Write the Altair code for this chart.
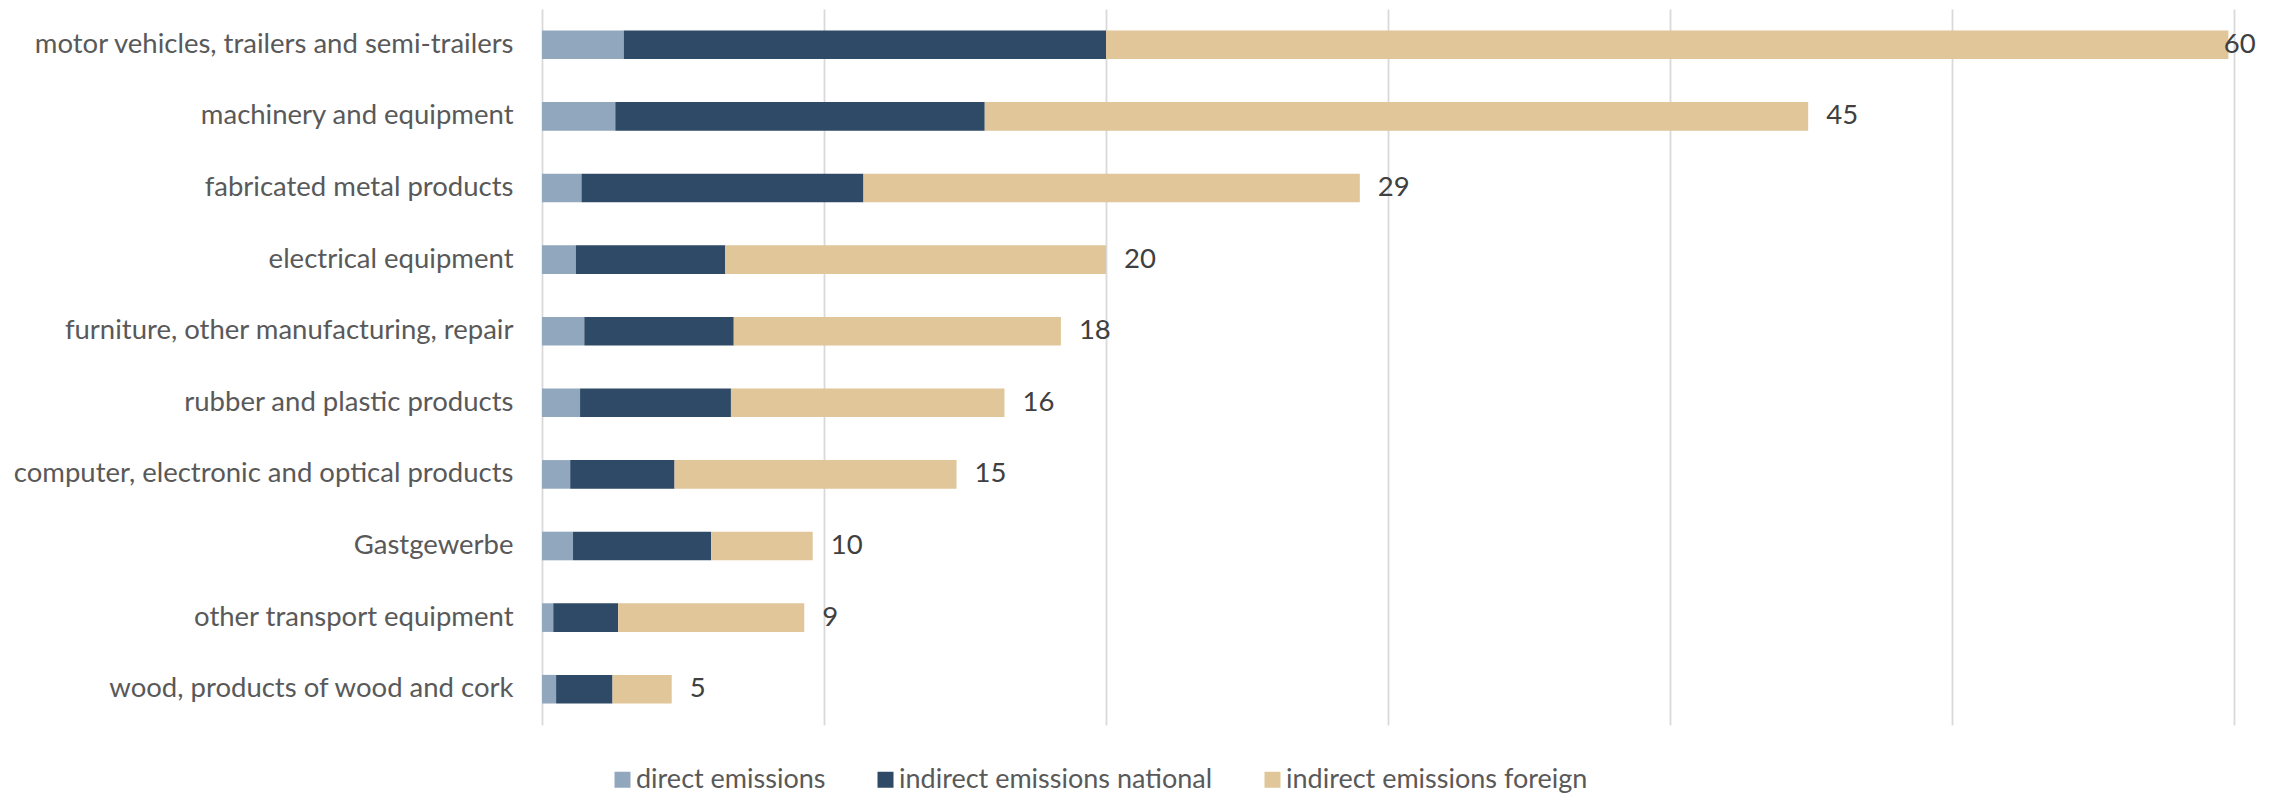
import altair as alt
import pandas as pd

categories = [
    "motor vehicles, trailers and semi-trailers",
    "machinery and equipment",
    "fabricated metal products",
    "electrical equipment",
    "furniture, other manufacturing, repair",
    "rubber and plastic products",
    "computer, electronic and optical products",
    "Gastgewerbe",
    "other transport equipment",
    "wood, products of wood and cork",
]
direct = [2.9, 2.6, 1.4, 1.2, 1.5, 1.35, 1.0, 1.1, 0.4, 0.5]
national = [17.1, 13.1, 10.0, 5.3, 5.3, 5.35, 3.7, 4.9, 2.3, 2.0]
foreign = [39.8, 29.2, 17.6, 13.5, 11.6, 9.7, 10.0, 3.6, 6.6, 2.1]

series_names = ["direct emissions", "indirect emissions national", "indirect emissions foreign"]
series_colors = ["#91A7BD", "#2E4A66", "#E0C699"]
x_ticks = [0, 10, 20, 30, 40, 50, 60]

rows = []
for i, c in enumerate(categories):
    for k, (name, vals) in enumerate(zip(series_names, [direct, national, foreign])):
        rows.append({"category": c, "series": name, "value": vals[i], "order": k})
df = pd.DataFrame(rows)

totals = pd.DataFrame({
    "category": categories,
    "total": [d + n + f for d, n, f in zip(direct, national, foreign)],
})

FONT = "Lato"
FS = 27.5

y_enc = alt.Y(
    "category:N",
    sort=categories,
    scale=alt.Scale(paddingInner=0.6, paddingOuter=0.3),
    axis=alt.Axis(
        title=None, domain=False, ticks=False, labelFontSize=FS, labelFont=FONT,
        labelColor="#595959", labelPadding=29, labelLimit=800,
    ),
)

bars = alt.Chart(df).mark_bar().encode(
    y=y_enc,
    x=alt.X(
        "value:Q",
        stack="zero",
        scale=alt.Scale(domain=[0, 60], nice=False),
        axis=alt.Axis(
            title=None, values=x_ticks, labels=False, ticks=False, domain=False,
            grid=True, gridColor="#d9d9d9", gridWidth=1.8,
        ),
    ),
    color=alt.Color(
        "series:N",
        scale=alt.Scale(domain=series_names, range=series_colors),
        legend=alt.Legend(
            title=None, orient="none", direction="horizontal", legendX=67, legendY=757,
            symbolType="square", symbolSize=256, symbolStrokeWidth=0,
            labelFontSize=27, labelFont=FONT, labelColor="#595959", labelLimit=800,
            columnPadding=46, labelOffset=0,
        ),
    ),
    order=alt.Order("order:Q"),
)

labels = alt.Chart(totals).transform_calculate(
    pos="min(datum.total, 59)"
).mark_text(
    align="left", baseline="middle", dx=18, fontSize=FS, font=FONT, color="#404040"
).encode(
    y=alt.Y("category:N", sort=categories),
    x=alt.X("pos:Q"),
    text=alt.Text("total:Q", format=".0f"),
)

chart = alt.layer(bars, labels).properties(
    width=1692,
    height=716,
    autosize=alt.AutoSizeParams(type="none"),
    padding={"left": 542, "top": 9, "right": 48, "bottom": 69},
    background="white",
).configure_view(stroke=None)

chart.save("out.html", embed_options={"renderer": "svg", "actions": False})
